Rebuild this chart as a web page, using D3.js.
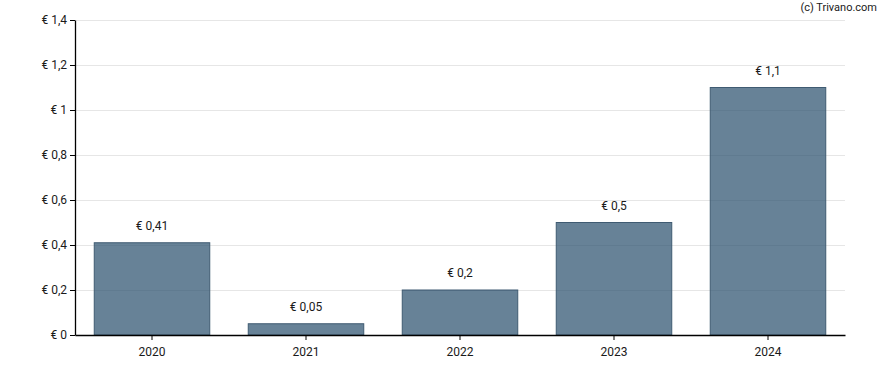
<!DOCTYPE html>
<html>
<head>
<meta charset="utf-8">
<script src="https://cdn.jsdelivr.net/npm/d3@7"></script>
<style>
  body { margin: 0; background: #fff; }
  svg text { font-family: Roboto, "Noto Sans", sans-serif; }
</style>
</head>
<body>
<div id="chart"></div>
<script>
// data
const years = ["2020", "2021", "2022", "2023", "2024"];
const dividends = [0.41, 0.05, 0.2, 0.5, 1.1];
const yTicks = [0, 0.2, 0.4, 0.6, 0.8, 1, 1.2, 1.4];

const width = 888, height = 370;
const marginTop = 20, marginRight = 43, marginBottom = 35, marginLeft = 75;

const fmt = (v) => "€ " + String(v).replace(".", ",");

const svg = d3.select("#chart").append("svg")
    .attr("width", width)
    .attr("height", height);

const x = d3.scaleBand()
    .domain(years)
    .range([marginLeft, width - marginRight])
    .paddingInner(0.25)
    .paddingOuter(0.125);

const y = d3.scaleLinear()
    .domain([0, 1.4])
    .range([height - marginBottom, marginTop]);

// grid lines
svg.append("g")
    .selectAll("line")
    .data(yTicks.filter(d => d > 0))
    .join("line")
    .attr("x1", marginLeft)
    .attr("x2", width - marginRight)
    .attr("y1", d => y(d) + 0.5)
    .attr("y2", d => y(d) + 0.5)
    .attr("stroke", "#e6e6e6")
    .attr("stroke-width", 1);

// bars
svg.append("g")
    .selectAll("rect")
    .data(dividends)
    .join("rect")
    .attr("x", (d, i) => x(years[i]))
    .attr("y", d => y(d))
    .attr("width", x.bandwidth())
    .attr("height", d => y(0) - y(d))
    .attr("fill", "#2f5470")
    .attr("fill-opacity", 0.73)
    .attr("stroke", "#3f5b72")
    .attr("stroke-width", 1);

// value labels
svg.append("g")
    .selectAll("text")
    .data(dividends)
    .join("text")
    .attr("x", (d, i) => x(years[i]) + x.bandwidth() / 2)
    .attr("y", d => y(d) - 13)
    .attr("text-anchor", "middle")
    .attr("font-size", 12)
    .attr("fill", "#1a1a1a")
    .text(d => fmt(d));

// x axis
svg.append("g")
    .attr("transform", `translate(0,${y(0)})`)
    .call(d3.axisBottom(x).tickSize(5).tickSizeOuter(0))
    .call(g => g.select(".domain").attr("stroke", "#000").attr("stroke-width", 1.3))
    .call(g => g.selectAll("text").attr("font-size", 12).attr("fill", "#1a1a1a").attr("dy", "1.05em"));

// y axis
svg.append("g")
    .attr("transform", `translate(${marginLeft},0)`)
    .call(d3.axisLeft(y).tickValues(yTicks).tickFormat(fmt).tickSize(5).tickSizeOuter(0))
    .call(g => g.select(".domain").attr("stroke", "#000").attr("stroke-width", 1.3))
    .call(g => g.selectAll("text").attr("font-size", 12).attr("fill", "#1a1a1a").attr("x", -8));

// credit
svg.append("text")
    .attr("x", width - 11)
    .attr("y", 11)
    .attr("text-anchor", "end")
    .attr("font-size", 11)
    .attr("fill", "#1a1a1a")
    .text("(c) Trivano.com");
</script>
</body>
</html>
